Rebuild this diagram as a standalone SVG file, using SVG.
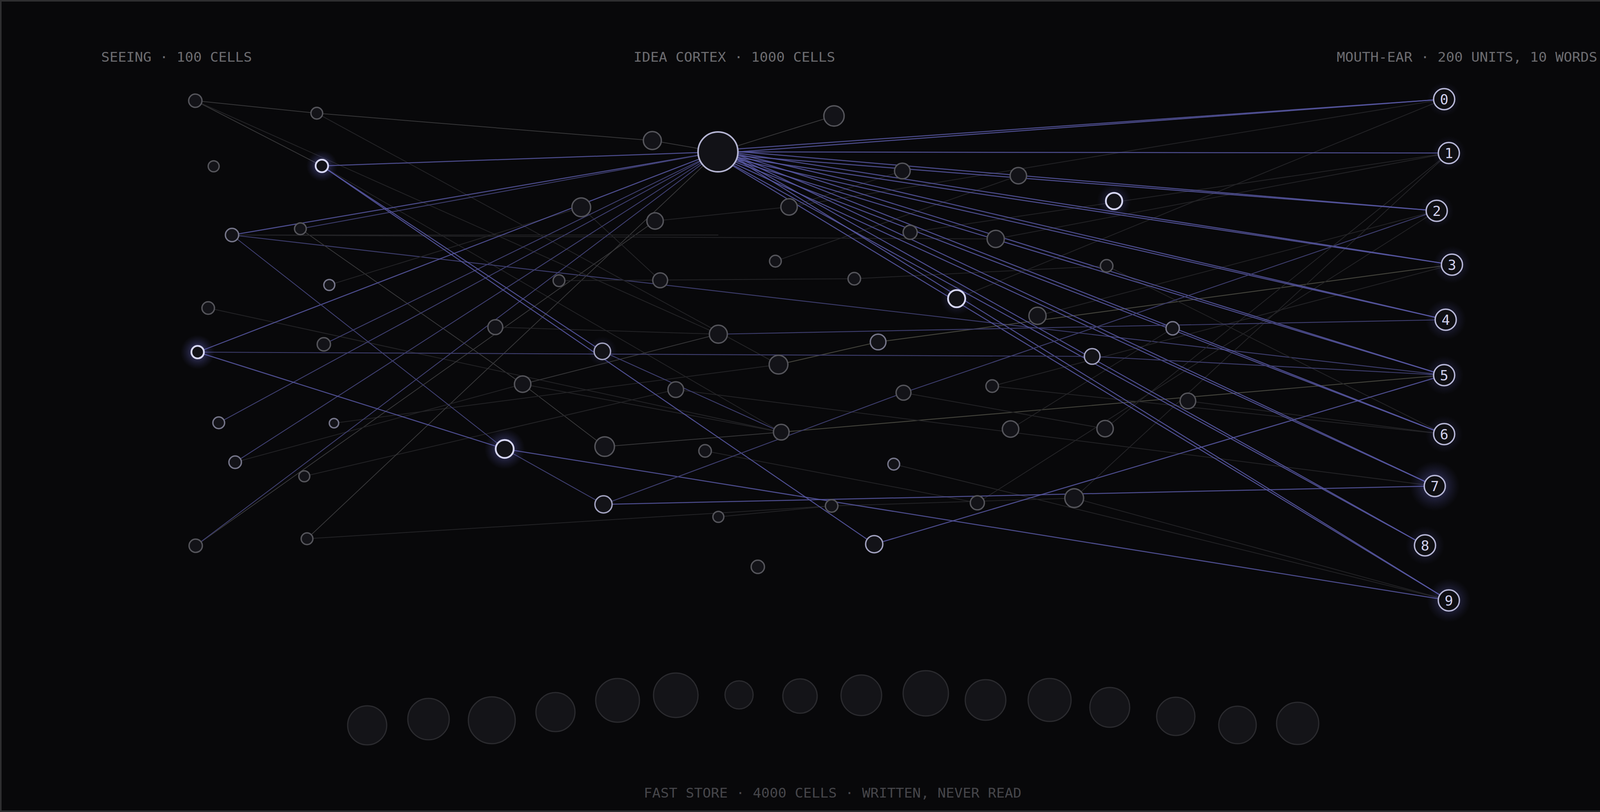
<svg xmlns="http://www.w3.org/2000/svg" width="4264" height="2080" viewBox="0 0 4264 2080">
<defs>
<radialGradient id="glow">
<stop offset="0" stop-color="#8c8cff" stop-opacity="0.55"/>
<stop offset="0.55" stop-color="#6a6ad0" stop-opacity="0.22"/>
<stop offset="1" stop-color="#5050a0" stop-opacity="0"/>
</radialGradient>
<style>
.bg{fill:#08080a}
.frame{fill:none;stroke:#2e2e30;stroke-width:4}
.lbl{font-family:"DejaVu Sans Mono","Liberation Mono",monospace;font-size:34px;fill:#6c6c70}
.lbl2{font-family:"DejaVu Sans Mono","Liberation Mono",monospace;font-size:34px;fill:#46464a}
.n{fill:#131318;stroke:#55555b;stroke-width:3.5}
.na{fill:#121217;stroke:#d8d8f6;stroke-width:4.5}
.nb{fill:#131318;stroke:#a2a2c0;stroke-width:3.5}
.nl{fill:#131318;stroke:#76768a;stroke-width:3.5}
.hub{fill:#121217;stroke:#b4b4d2;stroke-width:4}
.w{fill:#0f0f13;stroke:#b8b8d8;stroke-width:3.5}
.wt{font-family:"DejaVu Sans Mono","Liberation Mono",monospace;font-size:36px;fill:#d2d2ee;text-anchor:middle}
.f{fill:#141418;stroke:#2b2b2f;stroke-width:3}
.hot{stroke:#5a5aa8;stroke-width:2.5;stroke-opacity:0.85;fill:none}
.warm{stroke:#3f3f70;stroke-width:2.2;fill:none}
.g{stroke:#38383a;stroke-width:2;fill:none}
.gf{stroke:#242427;stroke-width:2;fill:none}
.ol{stroke:#46463e;stroke-width:2.2;fill:none}
</style>
</defs>
<rect class="bg" x="0" y="0" width="4264" height="2080"/>
<rect class="frame" x="2" y="2" width="4260" height="2076"/>

<g id="labels">
<text class="lbl" x="259" y="158" textLength="386" lengthAdjust="spacingAndGlyphs">SEEING · 100 CELLS</text>
<text class="lbl" x="1622" y="158" textLength="516" lengthAdjust="spacingAndGlyphs">IDEA CORTEX · 1000 CELLS</text>
<text class="lbl" x="3422" y="158" textLength="667" lengthAdjust="spacingAndGlyphs">MOUTH-EAR · 200 UNITS, 10 WORDS</text>
<text class="lbl2" x="1648" y="2043" textLength="967" lengthAdjust="spacingAndGlyphs">FAST STORE · 4000 CELLS · WRITTEN, NEVER READ</text>
</g>

<g id="connectors">
<!-- faint grey background lines -->
<line class="g" x1="500" y1="258" x2="811" y2="290"/>
<line class="g" x1="811" y1="290" x2="1670" y2="360"/>
<line class="g" x1="1670" y1="360" x2="1838" y2="389"/>
<line class="g" x1="500" y1="258" x2="824" y2="425"/>
<line class="gf" x1="500" y1="258" x2="1839" y2="856"/>
<line class="gf" x1="811" y1="290" x2="1993" y2="934"/>
<line class="gf" x1="824" y1="425" x2="2000" y2="1107"/>
<line class="gf" x1="594" y1="602" x2="2549" y2="612"/>
<line class="warm" x1="594" y1="602" x2="3697" y2="961"/>
<line class="g" x1="769" y1="586" x2="1338" y2="984"/>
<line class="g" x1="1338" y1="984" x2="1548" y2="1144"/>
<line class="gf" x1="843" y1="730" x2="1488" y2="531"/>
<line class="gf" x1="533" y1="789" x2="2000" y2="1107"/>
<line class="gf" x1="855" y1="1084" x2="1993" y2="934"/>
<line class="gf" x1="779" y1="1220" x2="1730" y2="998"/>
<line class="g" x1="501" y1="1398" x2="1677" y2="566"/>
<line class="g" x1="786" y1="1380" x2="1838" y2="389"/>
<line class="gf" x1="786" y1="1380" x2="2129" y2="1296"/>
<line class="gf" x1="602" y1="1184" x2="1338" y2="984"/>
<line class="g" x1="1338" y1="984" x2="1839" y2="856"/>
<line class="gf" x1="1338" y1="984" x2="2000" y2="1107"/>
<line class="g" x1="1548" y1="1144" x2="2000" y2="1107"/>
<line class="gf" x1="1268" y1="838" x2="1839" y2="856"/>
<line class="gf" x1="1488" y1="531" x2="1690" y2="718"/>
<line class="gf" x1="1677" y1="566" x2="2020" y2="530"/>
<line class="g" x1="2135" y1="297" x2="1838" y2="389"/>
<line class="gf" x1="2020" y1="530" x2="2310" y2="438"/>
<line class="ol" x1="1993" y1="934" x2="2248" y2="876"/>
<line class="ol" x1="2248" y1="876" x2="3717" y2="678"/>
<line class="ol" x1="2000" y1="1107" x2="3697" y2="961"/>
<line class="gf" x1="2656" y1="809" x2="3678" y2="540"/>
<line class="gf" x1="2587" y1="1099" x2="3002" y2="841"/>
<line class="gf" x1="2750" y1="1276" x2="3709" y2="392"/>
<line class="gf" x1="2750" y1="1276" x2="3709" y2="1538"/>
<line class="gf" x1="2288" y1="1189" x2="3709" y2="1538"/>
<line class="gf" x1="2540" y1="989" x2="3697" y2="1112"/>
<line class="gf" x1="3041" y1="1027" x2="3697" y2="1112"/>
<line class="gf" x1="2833" y1="681" x2="3697" y2="1112"/>
<line class="gf" x1="2187" y1="714" x2="2833" y2="681"/>
<line class="gf" x1="1985" y1="669" x2="2607" y2="450"/>
<line class="gf" x1="1730" y1="998" x2="3673" y2="1245"/>
<line class="gf" x1="2020" y1="530" x2="3697" y2="254"/>
<line class="gf" x1="2449" y1="765" x2="3697" y2="254"/>
<line class="gf" x1="2549" y1="612" x2="3709" y2="392"/>
<line class="gf" x1="2330" y1="595" x2="3709" y2="392"/>
<line class="gf" x1="2829" y1="1098" x2="3709" y2="392"/>
<line class="gf" x1="2502" y1="1288" x2="3678" y2="540"/>
<line class="gf" x1="2540" y1="989" x2="3717" y2="678"/>
<line class="gf" x1="2313" y1="1006" x2="2829" y2="1098"/>
<line class="gf" x1="1805" y1="1155" x2="2502" y2="1288"/>
<line class="gf" x1="2129" y1="1296" x2="2750" y2="1276"/>
<line class="gf" x1="1839" y1="1324" x2="2129" y2="1296"/>
<line class="gf" x1="1431" y1="719" x2="2186" y2="714"/>
<line class="gf" x1="593" y1="602" x2="1839" y2="602"/>
<!-- blue lines into hub -->
<line class="hot" x1="824" y1="425" x2="1838" y2="389"/>
<line class="hot" x1="594" y1="602" x2="1838" y2="389"/>
<line class="warm" x1="769" y1="586" x2="1838" y2="389"/>
<line class="hot" x1="506" y1="902" x2="1838" y2="389"/>
<line class="warm" x1="829" y1="882" x2="1838" y2="389"/>
<line class="warm" x1="560" y1="1083" x2="1838" y2="389"/>
<line class="warm" x1="602" y1="1184" x2="1838" y2="389"/>
<line class="warm" x1="501" y1="1398" x2="1838" y2="389"/>
<!-- hub fan to words -->
<line class="hot" x1="1838" y1="385" x2="3697" y2="254"/>
<line class="hot" x1="1838" y1="393" x2="3697" y2="254"/>
<line class="hot" x1="1838" y1="389" x2="3709" y2="392"/>
<line class="hot" x1="1838" y1="384" x2="3678" y2="540"/>
<line class="hot" x1="1838" y1="395" x2="3678" y2="540"/>
<line class="hot" x1="1838" y1="384" x2="3717" y2="678"/>
<line class="hot" x1="1838" y1="396" x2="3717" y2="678"/>
<line class="hot" x1="1838" y1="383" x2="3701" y2="819"/>
<line class="hot" x1="1838" y1="397" x2="3701" y2="819"/>
<line class="hot" x1="1838" y1="382" x2="3697" y2="961"/>
<line class="hot" x1="1838" y1="398" x2="3697" y2="961"/>
<line class="hot" x1="1838" y1="382" x2="3697" y2="1112"/>
<line class="hot" x1="1838" y1="398" x2="3697" y2="1112"/>
<line class="hot" x1="1840" y1="381" x2="3673" y2="1245"/>
<line class="hot" x1="1836" y1="399" x2="3673" y2="1245"/>
<line class="hot" x1="1842" y1="381" x2="3648" y2="1397"/>
<line class="hot" x1="1834" y1="399" x2="3648" y2="1397"/>
<line class="hot" x1="1844" y1="382" x2="3709" y2="1538"/>
<line class="hot" x1="1832" y1="398" x2="3709" y2="1538"/>
<!-- other active paths -->
<line class="hot" x1="506" y1="902" x2="1292" y2="1150"/>
<line class="hot" x1="1292" y1="1150" x2="3709" y2="1538"/>
<line class="warm" x1="506" y1="902" x2="2796" y2="913"/>
<line class="warm" x1="2796" y1="913" x2="3697" y2="961"/>
<line class="hot" x1="824" y1="425" x2="1542" y2="900"/>
<line class="hot" x1="824" y1="425" x2="2238" y2="1394"/>
<line class="hot" x1="2238" y1="1394" x2="3697" y2="961"/>
<line class="warm" x1="594" y1="602" x2="1292" y2="1150"/>
<line class="warm" x1="1292" y1="1150" x2="1545" y2="1292"/>
<line class="hot" x1="1545" y1="1292" x2="3673" y2="1245"/>
<line class="warm" x1="1545" y1="1292" x2="2313" y2="1006"/>
<line class="warm" x1="2313" y1="1006" x2="3678" y2="540"/>
<line class="warm" x1="1839" y1="856" x2="3701" y2="819"/>
<line class="warm" x1="1542" y1="900" x2="2000" y2="1107"/>
</g>

<g id="fast-store">
<circle class="f" cx="940" cy="1858" r="50"/>
<circle class="f" cx="1097" cy="1842" r="53"/>
<circle class="f" cx="1259" cy="1845" r="60"/>
<circle class="f" cx="1422" cy="1824" r="50"/>
<circle class="f" cx="1581" cy="1794" r="56"/>
<circle class="f" cx="1730" cy="1781" r="57"/>
<circle class="f" cx="1892" cy="1780" r="36"/>
<circle class="f" cx="2048" cy="1783" r="44"/>
<circle class="f" cx="2205" cy="1781" r="52"/>
<circle class="f" cx="2370" cy="1776" r="58"/>
<circle class="f" cx="2523" cy="1793" r="52"/>
<circle class="f" cx="2687" cy="1793" r="55"/>
<circle class="f" cx="2841" cy="1812" r="51"/>
<circle class="f" cx="3010" cy="1835" r="49"/>
<circle class="f" cx="3168" cy="1857" r="48"/>
<circle class="f" cx="3322" cy="1853" r="54"/>
</g>

<g id="seeing">
<g id="s1"><circle class="n" cx="500" cy="258" r="17"/></g>
<g id="s2"><circle class="n" cx="811" cy="290" r="15"/></g>
<g id="s3"><circle class="n" cx="547" cy="426" r="14"/></g>
<g id="s4"><circle cx="824" cy="425" r="40" fill="url(#glow)"/><circle class="na" cx="824" cy="425" r="16"/></g>
<g id="s5"><circle class="nl" cx="594" cy="602" r="17"/></g>
<g id="s6"><circle class="n" cx="769" cy="586" r="15"/></g>
<g id="s7"><circle class="nl" cx="843" cy="730" r="14"/></g>
<g id="s8"><circle class="n" cx="533" cy="789" r="16"/></g>
<g id="s9"><circle cx="506" cy="902" r="44" fill="url(#glow)"/><circle class="na" cx="506" cy="902" r="16"/></g>
<g id="s10"><circle class="n" cx="829" cy="882" r="17"/></g>
<g id="s11"><circle class="nl" cx="560" cy="1083" r="15"/></g>
<g id="s12"><circle class="nl" cx="855" cy="1084" r="12"/></g>
<g id="s13"><circle class="nl" cx="602" cy="1184" r="16"/></g>
<g id="s14"><circle class="n" cx="779" cy="1220" r="14"/></g>
<g id="s15"><circle class="n" cx="501" cy="1398" r="17"/></g>
<g id="s16"><circle class="n" cx="786" cy="1380" r="15"/></g>
</g>

<g id="cortex">
<g id="c-hub"><circle class="hub" cx="1838" cy="389" r="51"/></g>
<g id="c1"><circle class="n" cx="1670" cy="360" r="23"/></g>
<g id="c2"><circle class="n" cx="2135" cy="297" r="26"/></g>
<g id="c3"><circle class="n" cx="1488" cy="531" r="24"/></g>
<g id="c4"><circle class="n" cx="1677" cy="566" r="21"/></g>
<g id="c5"><circle class="n" cx="2020" cy="530" r="21"/></g>
<g id="c6"><circle class="n" cx="1985" cy="669" r="15"/></g>
<g id="c7"><circle class="n" cx="1431" cy="719" r="15"/></g>
<g id="c8"><circle class="n" cx="1690" cy="718" r="19"/></g>
<g id="c9"><circle class="n" cx="2187" cy="714" r="16"/></g>
<g id="c10"><circle class="n" cx="1268" cy="838" r="19"/></g>
<g id="c11"><circle cx="1542" cy="900" r="38" fill="url(#glow)" opacity="0.5"/><circle class="nb" cx="1542" cy="900" r="21"/></g>
<g id="c12"><circle class="n" cx="1839" cy="856" r="23"/></g>
<g id="c13"><circle class="n" cx="1993" cy="934" r="24"/></g>
<g id="c14"><circle class="n" cx="1338" cy="984" r="21"/></g>
<g id="c15"><circle class="n" cx="1730" cy="998" r="20"/></g>
<g id="c16"><circle cx="1292" cy="1150" r="52" fill="url(#glow)"/><circle class="na" cx="1292" cy="1150" r="23"/></g>
<g id="c17"><circle class="n" cx="1548" cy="1144" r="25"/></g>
<g id="c18"><circle class="n" cx="1805" cy="1155" r="16"/></g>
<g id="c19"><circle class="n" cx="2000" cy="1107" r="20"/></g>
<g id="c20"><circle class="nb" cx="1545" cy="1292" r="22"/></g>
<g id="c21"><circle class="n" cx="1839" cy="1324" r="14"/></g>
<g id="c22"><circle class="n" cx="2129" cy="1296" r="16"/></g>
<g id="c23"><circle class="n" cx="1940" cy="1452" r="17"/></g>
<g id="c24"><circle class="n" cx="2310" cy="438" r="20"/></g>
<g id="c25"><circle class="n" cx="2607" cy="450" r="21"/></g>
<g id="c26"><circle cx="2852" cy="515" r="44" fill="url(#glow)" opacity="0.7"/><circle class="na" cx="2852" cy="515" r="21"/></g>
<g id="c27"><circle class="n" cx="2330" cy="595" r="18"/></g>
<g id="c28"><circle class="n" cx="2549" cy="612" r="22"/></g>
<g id="c29"><circle class="n" cx="2833" cy="681" r="16"/></g>
<g id="c30"><circle cx="2449" cy="765" r="42" fill="url(#glow)" opacity="0.6"/><circle class="na" cx="2449" cy="765" r="22"/></g>
<g id="c31"><circle class="n" cx="2656" cy="809" r="22"/></g>
<g id="c32"><circle class="nl" cx="3002" cy="841" r="17"/></g>
<g id="c33"><circle class="nl" cx="2248" cy="876" r="20"/></g>
<g id="c34"><circle class="nb" cx="2796" cy="913" r="20"/></g>
<g id="c35"><circle class="n" cx="2313" cy="1006" r="19"/></g>
<g id="c36"><circle class="n" cx="2540" cy="989" r="16"/></g>
<g id="c37"><circle class="n" cx="3041" cy="1027" r="20"/></g>
<g id="c38"><circle class="n" cx="2587" cy="1099" r="21"/></g>
<g id="c39"><circle class="n" cx="2829" cy="1098" r="21"/></g>
<g id="c40"><circle class="nl" cx="2288" cy="1189" r="15"/></g>
<g id="c41"><circle class="n" cx="2502" cy="1288" r="18"/></g>
<g id="c42"><circle class="n" cx="2750" cy="1276" r="24"/></g>
<g id="c43"><circle class="nb" cx="2238" cy="1394" r="22"/></g>
</g>

<g id="words">
<g id="w0"><circle cx="3697" cy="254" r="44" fill="url(#glow)" opacity="0.5"/><circle class="w" cx="3697" cy="254" r="27"/><text class="wt" x="3697" y="267">0</text></g>
<g id="w1"><circle cx="3709" cy="392" r="44" fill="url(#glow)" opacity="0.5"/><circle class="w" cx="3709" cy="392" r="27"/><text class="wt" x="3709" y="405">1</text></g>
<g id="w2"><circle cx="3678" cy="540" r="44" fill="url(#glow)" opacity="0.5"/><circle class="w" cx="3678" cy="540" r="27"/><text class="wt" x="3678" y="553">2</text></g>
<g id="w3"><circle cx="3717" cy="678" r="48" fill="url(#glow)" opacity="0.65"/><circle class="w" cx="3717" cy="678" r="27"/><text class="wt" x="3717" y="691">3</text></g>
<g id="w4"><circle cx="3701" cy="819" r="52" fill="url(#glow)" opacity="0.7"/><circle class="w" cx="3701" cy="819" r="27"/><text class="wt" x="3701" y="832">4</text></g>
<g id="w5"><circle cx="3697" cy="961" r="50" fill="url(#glow)" opacity="0.65"/><circle class="w" cx="3697" cy="961" r="27"/><text class="wt" x="3697" y="974">5</text></g>
<g id="w6"><circle cx="3697" cy="1112" r="48" fill="url(#glow)" opacity="0.55"/><circle class="w" cx="3697" cy="1112" r="27"/><text class="wt" x="3697" y="1125">6</text></g>
<g id="w7"><circle cx="3673" cy="1245" r="64" fill="url(#glow)" opacity="0.9"/><circle class="w" cx="3673" cy="1245" r="27"/><text class="wt" x="3673" y="1258">7</text></g>
<g id="w8"><circle cx="3648" cy="1397" r="50" fill="url(#glow)" opacity="0.6"/><circle class="w" cx="3648" cy="1397" r="27"/><text class="wt" x="3648" y="1410">8</text></g>
<g id="w9"><circle cx="3709" cy="1538" r="56" fill="url(#glow)" opacity="0.8"/><circle class="w" cx="3709" cy="1538" r="27"/><text class="wt" x="3709" y="1551">9</text></g>
</g>
</svg>
